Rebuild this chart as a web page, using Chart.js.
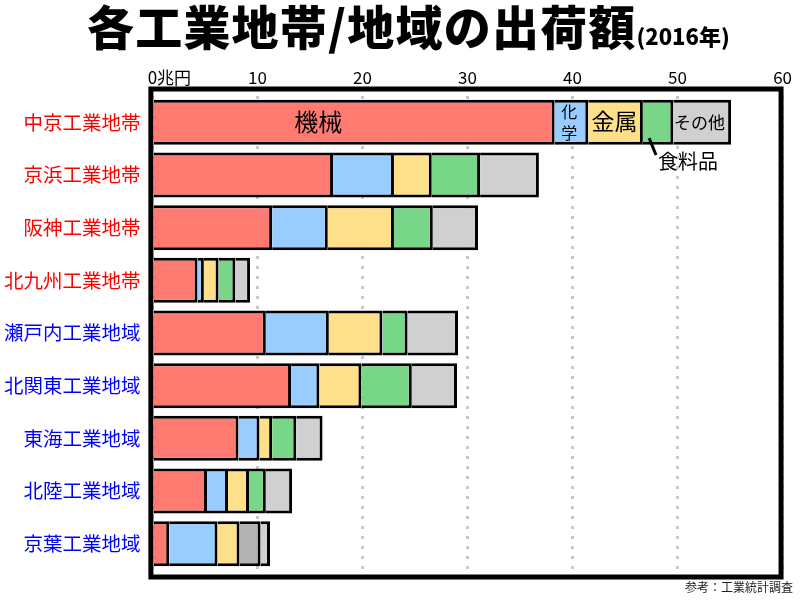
<!DOCTYPE html>
<html>
<head>
<meta charset="utf-8">
<script src="https://cdn.jsdelivr.net/npm/chart.js@4.4.1/dist/chart.umd.min.js"></script>
<style>
  body { margin: 0; background: #fff; }
  #wrap { position: relative; width: 800px; height: 600px; font-family: "Noto Sans CJK JP", sans-serif; }
  #chart { position: absolute; left: 0; top: 0; }
  #title { position: absolute; left: 87px; top: -3px; white-space: nowrap; color: #000; }
  #title .main { font-size: 47px; font-weight: 900; letter-spacing: 1.2px; line-height: 56px; }
  #title .sub { font-size: 22px; font-weight: 900; letter-spacing: 0px; }
  #source { position: absolute; right: 7px; top: 578px; font-size: 12px; color: #222; }
</style>
</head>
<body>
<div id="wrap">
  <canvas id="chart" width="800" height="600"></canvas>
  <div id="title"><span class="main">各工業地帯/地域の出荷額</span><span class="sub">(2016年)</span></div>
  <div id="source">参考：工業統計調査</div>
</div>
<script>
// 出荷額（兆円）
var regions = ['中京工業地帯', '京浜工業地帯', '阪神工業地帯', '北九州工業地帯',
    '瀬戸内工業地域', '北関東工業地域', '東海工業地域', '北陸工業地域', '京葉工業地域'];
var machinery = [38.3, 17.2, 11.4, 4.3, 10.8, 13.2, 8.2, 5.2, 1.6];
var chemical  = [3.2, 5.8, 5.3, 0.6, 6.0, 2.7, 2.0, 2.0, 4.6];
var metal     = [5.2, 3.6, 6.3, 1.4, 5.1, 4.0, 1.2, 2.0, 2.1];
var food      = [2.9, 4.6, 3.7, 1.6, 2.4, 4.8, 2.3, 1.6, 2.0];
var other     = [5.5, 5.6, 4.3, 1.4, 4.8, 4.3, 2.5, 2.5, 0.9];
var xTicks = [0, 10, 20, 30, 40, 50, 60];

var FONT = '"Noto Sans CJK JP", sans-serif';

// labels written inside / beside the top bar (x in 兆円, y in rows)
var notes = [
    {text: '機械', x: 15.8, y: 0, size: 24},
    {text: '化', x: 39.7, y: -0.2, size: 16},
    {text: '学', x: 39.7, y: 0.2, size: 16},
    {text: '金属', x: 44.0, y: -0.02, size: 23},
    {text: 'その他', x: 52.1, y: 0, size: 17},
    {text: '食料品', x: 51.0, y: 0.74, size: 20}
];
var leader = {x1: 47.3, y1: 0.30, x2: 47.95, y2: 0.62};

var frameAndNotes = {
    id: 'frameAndNotes',
    afterDraw: function (chart) {
        var ctx = chart.ctx;
        var a = chart.chartArea;
        var xs = chart.scales.x, ys = chart.scales.y;

        ctx.save();
        ctx.fillStyle = '#000';
        ctx.textAlign = 'center';
        ctx.textBaseline = 'middle';
        notes.forEach(function (n) {
            ctx.font = n.size + 'px ' + FONT;
            ctx.fillText(n.text, xs.getPixelForValue(n.x), ys.getPixelForValue(n.y));
        });
        ctx.strokeStyle = '#000';
        ctx.lineWidth = 3;
        ctx.beginPath();
        ctx.moveTo(xs.getPixelForValue(leader.x1), ys.getPixelForValue(leader.y1));
        ctx.lineTo(xs.getPixelForValue(leader.x2), ys.getPixelForValue(leader.y2));
        ctx.stroke();

        // thick frame round the plot
        ctx.lineWidth = 5;
        ctx.strokeRect(a.left - 1.5, a.top - 7, a.right - a.left, a.bottom - a.top + 14);
        ctx.restore();
    }
};

var base = {borderColor: '#000', borderWidth: 3, borderSkipped: 'start'};

new Chart(document.getElementById('chart'), {
    type: 'bar',
    data: {
        labels: regions,
        datasets: [
            Object.assign({label: '機械', data: machinery, backgroundColor: '#FF7B72'}, base),
            Object.assign({label: '化学', data: chemical, backgroundColor: '#99CCFF'}, base),
            Object.assign({label: '金属', data: metal, backgroundColor: '#FFE08A'}, base),
            Object.assign({label: '食料品', data: food,
                backgroundColor: ['#78D689', '#78D689', '#78D689', '#78D689', '#78D689',
                    '#78D689', '#78D689', '#78D689', '#B3B3B3']}, base),
            Object.assign({label: 'その他', data: other, backgroundColor: '#D0D0D0'}, base)
        ]
    },
    options: {
        indexAxis: 'y',
        responsive: false,
        animation: false,
        layout: {padding: {top: 0, right: 16, bottom: 30, left: 0}},
        plugins: {legend: {display: false}, tooltip: {enabled: false}},
        datasets: {bar: {barPercentage: 0.855, categoryPercentage: 1}},
        scales: {
            x: {
                position: 'top',
                stacked: true,
                min: 0,
                max: 60,
                z: 1,
                afterBuildTicks: function (s) {
                    s.ticks = xTicks.map(function (v) { return {value: v}; });
                },
                afterFit: function (s) { s.height = 96; },
                ticks: {
                    color: '#000',
                    font: {size: 17, family: FONT},
                    padding: 8,
                    maxRotation: 0,
                    autoSkip: false,
                    callback: function (v) { return v === 0 ? '\u3000\u30000兆円' : String(v); }
                },
                grid: {color: '#c8c8c8', lineWidth: 3, drawTicks: false},
                border: {display: false, dash: [3, 7]}
            },
            y: {
                stacked: true,
                afterFit: function (s) { s.width = 152.4; },
                ticks: {
                    color: function (c) { return c.index < 4 ? '#ff0000' : '#0000ff'; },
                    font: {size: 19.5, family: FONT},
                    padding: 4
                },
                grid: {display: false},
                border: {display: false}
            }
        }
    },
    plugins: [frameAndNotes]
});
</script>
</body>
</html>
